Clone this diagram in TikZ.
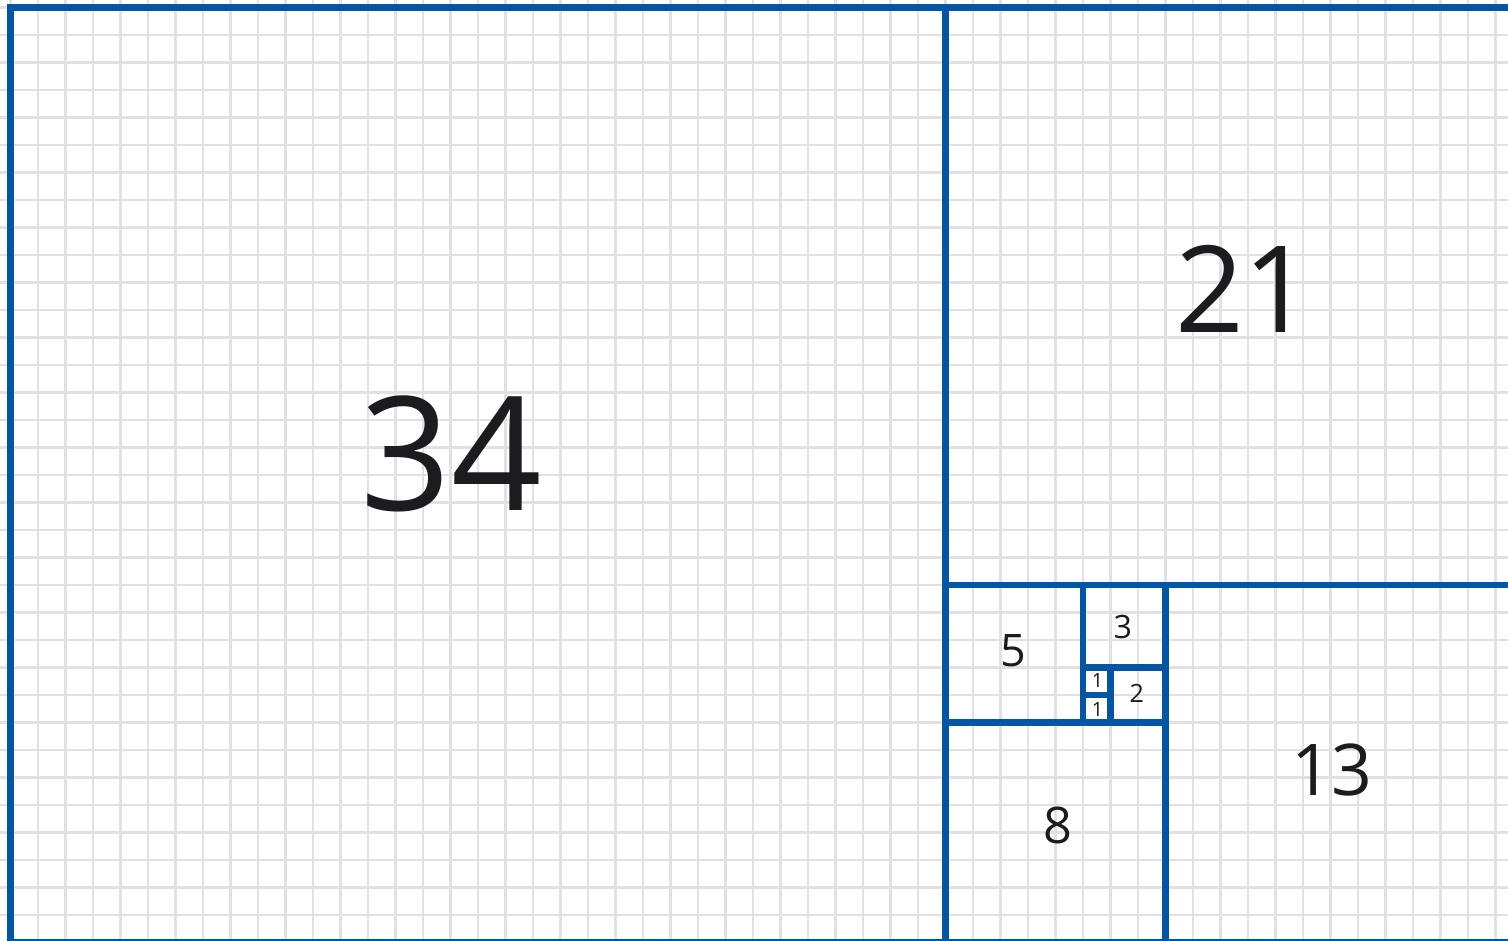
\documentclass[tikz,border=0pt]{standalone}
\usepackage{fontspec}
\setmainfont{Open Sans}
\definecolor{gridgray}{RGB}{225,225,225}
\definecolor{fibblue}{RGB}{0,85,165}
\definecolor{inkgray}{RGB}{28,28,32}
\tikzstyle{sq}=[draw=fibblue, line width=7.2pt]
\tikzstyle{num}=[text=inkgray, inner sep=0pt]
\newcommand{\numsize}[1]{\fontsize{#1}{#1}\selectfont}

\begin{document}
\begin{tikzpicture}
        \useasboundingbox (-0.3818,0.0909) rectangle (54.4545,34.2727);
        \fill[white] (-0.3818,0.0909) rectangle (54.4545,34.2727);
        \begin{scope}
            \clip (-0.3818,0.0909) rectangle (54.4545,34.2727);
            \draw[gridgray, line width=2.2pt] (-1,-1) grid (56,35);
            % the squares, largest first
            \draw[sq] (0,0) rectangle (34,34);
            \draw[sq] (34,13) rectangle (55,34);
            \draw[sq] (42,0) rectangle (55,13);
            \draw[sq] (34,0) rectangle (42,8);
            \draw[sq] (34,8) rectangle (39,13);
            \draw[sq] (39,10) rectangle (42,13);
            \draw[sq] (40,8) rectangle (42,10);
            \draw[sq] (39,9) rectangle (40,10);
            \draw[sq] (39,8) rectangle (40,9);
        \end{scope}
        \node[num, font={\numsize{164}}] (n34) at (16.04,17.78) {34};
        \node[num, font={\numsize{124.6}}] (n21) at (44.85,23.76) {21};
        \node[num, font={\numsize{73.9}}] (n13) at (48.05,6.29) {13};
        \node[num, font={\numsize{52.2}}] (n8) at (38.09,4.24) {8};
        \node[num, font={\numsize{46.4}}] (n5) at (36.45,10.6) {5};
        \node[num, font={\numsize{33.3}}] (n3) at (40.45,11.49) {3};
        \node[num, font={\numsize{26}}] (n2) at (40.96,9.04) {2};
        \node[num, font={\numsize{20.3}}] (n1a) at (39.53,9.53) {1};
        \node[num, font={\numsize{20.3}}] (n1b) at (39.53,8.49) {1};
    \end{tikzpicture}
\end{document}
